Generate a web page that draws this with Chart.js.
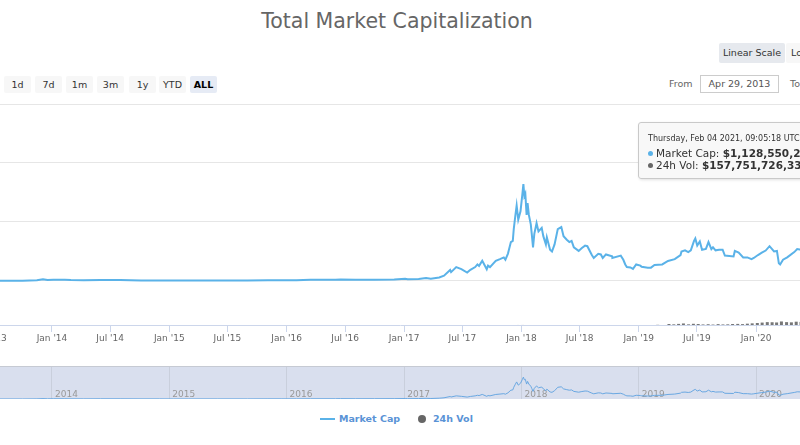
<!DOCTYPE html>
<html>
<head>
<meta charset="utf-8">
<title>Total Market Capitalization</title>
<script src="https://cdn.jsdelivr.net/npm/chart.js@4.4.0/dist/chart.umd.min.js"></script>
<style>
  html, body { margin: 0; padding: 0; background: #fff; }
  body { width: 800px; height: 445px; overflow: hidden; position: relative; font-family: "DejaVu Sans", sans-serif; }
  canvas { position: absolute; }
  #main { left: -100px; top: 95px; }
  #nav { left: -100px; top: 366px; }
  .abs { position: absolute; white-space: nowrap; }
  #title { left: 0; width: 794px; top: 9px; text-align: center; font-size: 20.5px; color: #666; }
  .btn { position: absolute; top: 76px; width: 27px; height: 17px; line-height: 17px; text-align: center;
         font-size: 9.5px; color: #333; background: #f7f7f7; border-radius: 2px; }
  .btn.on { background: #e6ebf5; font-weight: bold; color: #000; }
  .scale { position: absolute; top: 43px; height: 20px; line-height: 20px; font-size: 9.5px; color: #333;
           padding: 0 5px; box-sizing: border-box; border-radius: 2px; white-space: nowrap; }
  #from { left: 669px; top: 77px; line-height: 14px; font-size: 9.5px; color: #666; }
  #fromBox { left: 700px; top: 75px; width: 79px; height: 18px; box-sizing: border-box; border: 1px solid #ccc;
             font-size: 9.5px; color: #555; text-align: center; line-height: 16px; }
  #to { left: 790px; top: 77px; line-height: 14px; font-size: 9.5px; color: #666; }
  #tip { left: 638px; top: 122px; width: 200px; height: 57px; box-sizing: border-box;
         background: rgba(247,247,247,0.9); border: 1px solid #c9c9c9; border-radius: 3px;
         box-shadow: 1px 1px 3px rgba(0,0,0,0.12); color: #333; }
  #tip div { position: absolute; left: 9px; white-space: nowrap; }
  .dot { display: inline-block; width: 5px; height: 5px; border-radius: 50%; margin-right: 3px; vertical-align: 1px; }
  .leg { top: 412px; line-height: 14px; font-size: 9.5px; font-weight: bold; color: #5a93d6; }
</style>
</head>
<body>
<div id="title" class="abs">Total Market Capitalization</div>

<div class="btn" style="left:4px">1d</div>
<div class="btn" style="left:35px">7d</div>
<div class="btn" style="left:66px">1m</div>
<div class="btn" style="left:97px">3m</div>
<div class="btn" style="left:129px">1y</div>
<div class="btn" style="left:159px">YTD</div>
<div class="btn on" style="left:190px">ALL</div>

<div class="scale" style="left:719px; width:66px; background:#e6e9ee; text-align:center; padding:0">Linear Scale</div>
<div class="scale" style="left:786px; background:#f7f7f7">Log Scale</div>

<div id="from" class="abs">From</div>
<div id="fromBox" class="abs">Apr 29, 2013</div>
<div id="to" class="abs">To</div>

<canvas id="main" width="1000" height="260"></canvas>
<canvas id="nav" width="1000" height="33"></canvas>

<div id="tip" class="abs">
  <div style="top:10px; font-size:8px; line-height:12px">Thursday, Feb 04 2021, 09:05:18 UTC</div>
  <div style="top:23px; font-size:10.5px; line-height:14px"><span class="dot" style="background:#5ab2e8"></span>Market Cap: <b>$1,128,550,231,406</b></div>
  <div style="top:35px; font-size:10.5px; line-height:14px"><span class="dot" style="background:#666"></span>24h Vol: <b>$157,751,726,337</b></div>
</div>

<div class="abs" style="left:320px; top:418px; width:15px; height:2px; background:#5ab2e8"></div>
<div class="abs leg" style="left:339px">Market Cap</div>
<div class="abs" style="left:418px; top:415px; width:8px; height:8px; border-radius:50%; background:#666"></div>
<div class="abs leg" style="left:433px">24h Vol</div>

<script>
// Total market cap, billions USD
const capDates = [
  "2013-04-29", "2013-07-01", "2013-10-01", "2013-11-15", "2013-12-04", "2013-12-18",
  "2014-01-05", "2014-02-10", "2014-03-01", "2014-04-10", "2014-06-01", "2014-08-01",
  "2014-10-05", "2014-12-01", "2015-01-14", "2015-03-01", "2015-06-01", "2015-07-12",
  "2015-09-01", "2015-11-04", "2015-12-15", "2016-02-01", "2016-03-15", "2016-06-01",
  "2016-06-17", "2016-08-02", "2016-10-01", "2016-12-01", "2017-01-04", "2017-01-12",
  "2017-02-15", "2017-03-10", "2017-03-25", "2017-04-20", "2017-05-05", "2017-05-24",
  "2017-05-27", "2017-06-12", "2017-06-28", "2017-07-16", "2017-07-26", "2017-08-10",
  "2017-08-17", "2017-08-22", "2017-09-01", "2017-09-15", "2017-09-19", "2017-09-25",
  "2017-10-13", "2017-10-26", "2017-11-07", "2017-11-12", "2017-11-20", "2017-11-29",
  "2017-12-05", "2017-12-08", "2017-12-13", "2017-12-17", "2017-12-22", "2017-12-29",
  "2018-01-04", "2018-01-07", "2018-01-10", "2018-01-13", "2018-01-17", "2018-01-20",
  "2018-01-24", "2018-01-30", "2018-02-02", "2018-02-06", "2018-02-10", "2018-02-17",
  "2018-02-23", "2018-03-05", "2018-03-10", "2018-03-18", "2018-03-21", "2018-03-31",
  "2018-04-06", "2018-04-14", "2018-04-24", "2018-05-05", "2018-05-12", "2018-05-22",
  "2018-05-30", "2018-06-06", "2018-06-13", "2018-06-28", "2018-07-08", "2018-07-18",
  "2018-07-25", "2018-08-08", "2018-08-14", "2018-08-28", "2018-09-05", "2018-09-11",
  "2018-09-21", "2018-10-10", "2018-10-11", "2018-11-06", "2018-11-14", "2018-11-20",
  "2018-11-25", "2018-12-06", "2018-12-14", "2018-12-24", "2019-01-06", "2019-01-10",
  "2019-01-29", "2019-02-08", "2019-02-19", "2019-03-15", "2019-04-02", "2019-04-23",
  "2019-05-11", "2019-05-14", "2019-05-25", "2019-06-04", "2019-06-12", "2019-06-22",
  "2019-06-26", "2019-07-02", "2019-07-10", "2019-07-17", "2019-07-29", "2019-08-06",
  "2019-08-15", "2019-08-20", "2019-08-28", "2019-09-08", "2019-09-19", "2019-09-26",
  "2019-10-23", "2019-10-27", "2019-11-08", "2019-11-22", "2019-12-05", "2019-12-18",
  "2019-12-25", "2020-01-07", "2020-01-19", "2020-01-31", "2020-02-12", "2020-02-26",
  "2020-03-06", "2020-03-12", "2020-03-16", "2020-03-25", "2020-04-07", "2020-04-29",
  "2020-05-08", "2020-05-20", "2020-06-15", "2020-07-27", "2020-08-17", "2020-09-23",
  "2020-10-22", "2020-11-24", "2020-12-17", "2021-01-08", "2021-01-22", "2021-02-04"
];
const capValues = [
  1.6, 1.2, 1.6, 5.5, 15, 8,
  11, 10, 7.5, 5.5, 8.5, 7.8,
  4.8, 5.2, 3.5, 4.1, 3.6, 4.5,
  3.7, 6.9, 6.9, 6.8, 9.5, 9.8,
  13.5, 10.1, 11.2, 13.4, 18, 14.5,
  17, 25, 19, 30, 45, 93,
  75, 118, 100, 72, 95, 118,
  140, 128, 172, 100, 130, 118,
  170, 185, 200, 180, 232, 330,
  340, 440, 555, 640, 520, 590,
  740, 822, 720, 740, 560, 660,
  560, 480, 400, 285, 400, 490,
  420, 450, 380, 310, 370, 265,
  250, 310, 440, 457, 380, 350,
  330, 340, 285, 255, 280, 300,
  295, 220, 195, 230, 225, 195,
  225, 210, 196, 215, 180, 140,
  118, 115, 103, 140, 130, 120,
  112, 113, 135, 140, 170, 185,
  220, 250, 260, 245, 260, 340,
  360, 300, 335, 265, 272, 330,
  270, 285, 260, 265, 265, 215,
  208, 255, 240, 200, 200, 185,
  195, 220, 240, 258, 295, 250,
  255, 150, 140, 180, 200, 245,
  270, 265, 265, 340, 385, 325,
  400, 560, 680, 1080, 900, 1128
];

// 24h volume, billions USD
const volDates = [
  "2013-06-01", "2014-01-01", "2015-01-01", "2016-01-01", "2017-01-01", "2017-06-01",
  "2017-09-01", "2017-12-20", "2018-01-05", "2018-03-01", "2018-06-01", "2018-09-01",
  "2018-12-01", "2019-03-01", "2019-04-05", "2019-04-20", "2019-05-05", "2019-05-20",
  "2019-06-05", "2019-06-20", "2019-07-05", "2019-07-20", "2019-08-05", "2019-08-20",
  "2019-09-05", "2019-09-20", "2019-10-05", "2019-10-20", "2019-11-05", "2019-11-20",
  "2019-12-05", "2019-12-20", "2020-01-05", "2020-01-20", "2020-02-05", "2020-02-20",
  "2020-03-05", "2020-03-20", "2020-04-05", "2020-04-20", "2020-05-05", "2020-05-20",
  "2020-07-01", "2020-09-01", "2020-11-01", "2021-01-10", "2021-02-04"
];
const volValues = [
  0.01, 0.02, 0.01, 0.02, 0.05, 0.3,
  0.6, 1.5, 2, 1.2, 1, 1,
  1, 8, 45, 30, 50, 70,
  30, 55, 45, 25, 35, 20,
  40, 25, 30, 45, 50, 40,
  60, 75, 90, 110, 130, 125,
  115, 160, 130, 120, 150, 140,
  70, 130, 90, 220, 158
];

const capTicks = [0, 500, 1000, 1500];
const axisDates = [
  "2013-07-01", "2014-01-01", "2014-07-01", "2015-01-01", "2015-07-01", "2016-01-01",
  "2016-07-01", "2017-01-01", "2017-07-01", "2018-01-01", "2018-07-01", "2019-01-01",
  "2019-07-01", "2020-01-01", "2020-07-01", "2021-01-01"
];
const navDates = [
  "2014-01-01", "2015-01-01", "2016-01-01", "2017-01-01", "2018-01-01",
  "2019-01-01", "2020-01-01", "2021-01-01"
];
const months = ["Jan", "Feb", "Mar", "Apr", "May", "Jun", "Jul", "Aug", "Sep", "Oct", "Nov", "Dec"];

function toDay(s) {
  const p = s.split("-");
  return Date.UTC(+p[0], +p[1] - 1, +p[2]) / 86400000;
}

const xMin = toDay("2012-09-15");
const xMax = toDay("2021-03-24");
const font = { family: "DejaVu Sans", size: 9 };

const capPoints = capDates.map((d, i) => ({ x: toDay(d), y: capValues[i] }));
const volPoints = volDates.map((d, i) => ({ x: toDay(d), y: volValues[i] }));

// main chart: market cap line + volume columns
new Chart(document.getElementById("main"), {
  type: "line",
  data: {
    datasets: [
      {
        label: "Market Cap",
        data: capPoints,
        borderColor: "#5ab2e8",
        borderWidth: 2,
        pointRadius: 0,
        tension: 0,
        yAxisID: "y",
        order: 1,
      },
      {
        type: "bar",
        label: "24h Vol",
        data: volPoints,
        backgroundColor: "#777",
        barThickness: 3,
        inflateAmount: 0,
        yAxisID: "yv",
        order: 2,
      },
    ],
  },
  options: {
    responsive: false,
    animation: false,
    events: [],
    layout: { padding: { top: 9, left: 0, right: 0, bottom: 0 } },
    plugins: { legend: { display: false }, tooltip: { enabled: false } },
    scales: {
      x: {
        type: "linear",
        min: xMin,
        max: xMax,
        bounds: "data",
        offset: false,
        afterBuildTicks: (s) => {
          s.ticks = axisDates.map((d) => ({ value: toDay(d) }));
        },
        afterFit: (s) => {
          s.height = 30;
        },
        grid: { drawOnChartArea: false, offset: false, tickLength: 7, color: "#ccd6eb" },
        border: { color: "#ccd6eb" },
        ticks: {
          autoSkip: false,
          maxRotation: 0,
          padding: 1,
          color: "#666",
          font: font,
          callback: (v) => {
            const dt = new Date(v * 86400000);
            return months[dt.getUTCMonth()] + " '" + String(dt.getUTCFullYear()).slice(2);
          },
        },
      },
      y: {
        min: -373,
        max: 1500,
        bounds: "data",
        afterBuildTicks: (s) => {
          s.ticks = capTicks.map((v) => ({ value: v }));
        },
        afterFit: (s) => {
          s.width = 0;
        },
        ticks: { display: false },
        border: { display: false },
        grid: { color: "#e6e6e6", drawTicks: false },
      },
      yv: { display: false, min: 0, max: 10000 },
    },
  },
});

// navigator mask
const navMask = {
  id: "navMask",
  beforeDraw(chart) {
    const { ctx, chartArea } = chart;
    ctx.save();
    ctx.fillStyle = "#d9dfee";
    ctx.fillRect(chartArea.left, chartArea.top, chartArea.right - chartArea.left, chartArea.bottom - chartArea.top);
    ctx.strokeStyle = "#c6cad3";
    ctx.lineWidth = 1;
    ctx.beginPath();
    ctx.moveTo(chartArea.left, chartArea.top - 0.5);
    ctx.lineTo(chartArea.right, chartArea.top - 0.5);
    ctx.stroke();
    ctx.restore();
  },
};

new Chart(document.getElementById("nav"), {
  type: "line",
  data: {
    datasets: [
      {
        label: "Market Cap",
        data: capPoints,
        borderColor: "#6aa8e2",
        borderWidth: 1,
        pointRadius: 0,
        tension: 0,
        clip: 3,
      },
    ],
  },
  options: {
    responsive: false,
    animation: false,
    events: [],
    layout: { padding: { top: 1, left: 0, right: 0, bottom: 0 } },
    plugins: { legend: { display: false }, tooltip: { enabled: false } },
    scales: {
      x: {
        type: "linear",
        min: xMin,
        max: xMax,
        bounds: "data",
        afterBuildTicks: (s) => {
          s.ticks = navDates.map((d) => ({ value: toDay(d) }));
        },
        afterFit: (s) => {
          s.height = 0;
        },
        grid: { drawTicks: false, color: "#c9cfdc" },
        border: { display: false },
        ticks: {
          autoSkip: false,
          maxRotation: 0,
          mirror: true,
          align: "start",
          labelOffset: 3,
          padding: -1,
          color: "#999",
          font: font,
          callback: (v) => String(new Date(v * 86400000).getUTCFullYear()),
        },
      },
      y: { display: false, min: 0, max: 1200 },
    },
  },
  plugins: [navMask],
});
</script>
</body>
</html>
